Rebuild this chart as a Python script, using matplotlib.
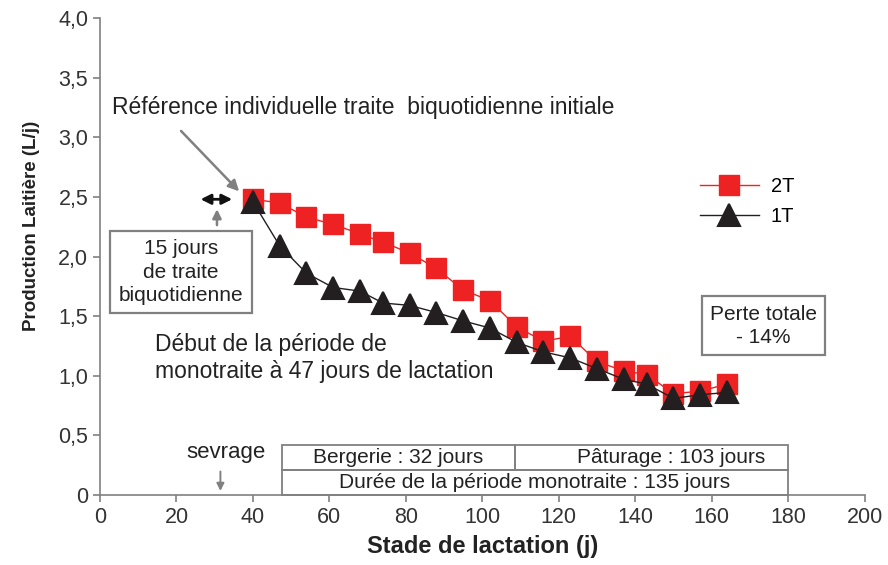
"""Production laitière : traite biquotidienne (2T) vs monotraite (1T)."""

import matplotlib

matplotlib.use("Agg")
import matplotlib.pyplot as plt
from matplotlib.patches import Rectangle

plt.rcParams.update({"font.family": "sans-serif",
                     "font.sans-serif": ["Liberation Sans", "DejaVu Sans"]})

INK = "#231f20"
TXT = "#222222"
RED = "#ee2222"
GRAY = "#808080"

# values
stade = [40, 47, 54, 61, 68, 74, 81, 88, 95, 102, 109, 116, 123, 130, 137, 143, 150, 157, 164]
prod_2t = [2.48, 2.45, 2.33, 2.27, 2.19, 2.12, 2.03, 1.90, 1.72, 1.63, 1.41, 1.29, 1.33,
           1.12, 1.04, 1.01, 0.85, 0.87, 0.93]
prod_1t = [2.46, 2.09, 1.86, 1.74, 1.71, 1.61, 1.59, 1.53, 1.46, 1.40, 1.28, 1.20, 1.15,
           1.06, 0.97, 0.93, 0.81, 0.84, 0.86]

x_ticks = [0, 20, 40, 60, 80, 100, 120, 140, 160, 180, 200]
y_ticks = [0, 0.5, 1.0, 1.5, 2.0, 2.5, 3.0, 3.5, 4.0]
y_tick_labels = ["0", "0,5", "1,0", "1,5", "2,0", "2,5", "3,0", "3,5", "4,0"]

# periods (days): monotraite from 47 to 180 days, bergerie / pâturage split
debut_mono, fin_mono, fin_bergerie = 47.5, 180, 108.5
sevrage = 31.5

fig = plt.figure(figsize=(8.88, 5.65), dpi=100, facecolor="white")
ax = fig.add_axes([0.1126, 0.124, 0.861, 0.844])

ax.plot(stade, prod_2t, color=RED, lw=1.0, marker="s", ms=14, mfc=RED, mec=RED,
        mew=1.0, label="2T", zorder=3)
ax.plot(stade, prod_1t, color=INK, lw=1.0, marker="^", ms=16, mfc=INK, mec=INK,
        mew=1.5, label="1T", zorder=4)

ax.set_xlim(0, 200)
ax.set_ylim(0, 4.0)
ax.set_xticks(x_ticks)
ax.set_yticks(y_ticks, y_tick_labels)
for side in ("top", "right"):
    ax.spines[side].set_visible(False)
for side in ("left", "bottom"):
    ax.spines[side].set_color(GRAY)
    ax.spines[side].set_linewidth(1.2)
ax.tick_params(colors=GRAY, labelcolor="#333333", labelsize=15.5, length=5, width=1.2)
ax.set_xlabel("Stade de lactation (j)", fontsize=17, fontweight="bold", color=TXT,
              labelpad=5)
ax.set_ylabel("Production Laitière (L/j)", fontsize=13.5, fontweight="bold", color=TXT)
ax.yaxis.set_label_coords(-0.078, 0.565)

ax.legend(loc="upper left", bbox_to_anchor=(0.785, 0.667), frameon=False,
          fontsize=14.5, handlelength=2.9, labelspacing=0.55, borderpad=0,
          borderaxespad=0, handletextpad=0.6)

# annotations
ax.text(3.2, 3.25, "Référence individuelle traite  biquotidienne initiale",
        fontsize=16.5, color=TXT, va="center")
ax.annotate("", xy=(36.9, 2.53), xytext=(20.7, 3.07),
            arrowprops=dict(arrowstyle="-|>", color=GRAY, lw=1.8, mutation_scale=16))
ax.annotate("", xy=(35.3, 2.48), xytext=(25.6, 2.48),
            arrowprops=dict(arrowstyle="<|-|>", color="#111111", lw=2.0, mutation_scale=15))
ax.annotate("", xy=(30.6, 2.42), xytext=(30.6, 2.24),
            arrowprops=dict(arrowstyle="-|>", color=GRAY, lw=1.8, mutation_scale=13))
ax.text(21.2, 1.87, "15 jours\nde traite\nbiquotidienne", fontsize=15, color=TXT,
        ha="center", va="center", linespacing=1.3,
        bbox=dict(boxstyle="square,pad=0.4", fc="white", ec=GRAY, lw=1.6))
ax.text(14.3, 1.15, "Début de la période de\nmonotraite à 47 jours de lactation",
        fontsize=16.5, color=TXT, va="center", linespacing=1.25)
ax.text(173.6, 1.42, "Perte totale\n- 14%", fontsize=15, color=TXT,
        ha="center", va="center", linespacing=1.25,
        bbox=dict(boxstyle="square,pad=0.4", fc="white", ec=GRAY, lw=1.6))

ax.text(33, 0.36, "sevrage", fontsize=16, color=TXT, ha="center", va="center")
ax.annotate("", xy=(sevrage, 0.01), xytext=(sevrage, 0.22),
            arrowprops=dict(arrowstyle="-|>", color=GRAY, lw=1.4, mutation_scale=11))

row_h = 0.21
for x0, x1, y0 in ((debut_mono, fin_mono, 0), (debut_mono, fin_bergerie, row_h),
                   (fin_bergerie, fin_mono, row_h)):
    ax.add_patch(Rectangle((x0, y0), x1 - x0, row_h, fill=False, ec=GRAY, lw=1.3,
                           clip_on=False, zorder=2))
ax.text((debut_mono + fin_bergerie) / 2, row_h * 1.5, "Bergerie : 32 jours",
        fontsize=15, color=TXT, ha="center", va="center")
ax.text(149.5, row_h * 1.5, "Pâturage : 103 jours",
        fontsize=15, color=TXT, ha="center", va="center")
ax.text((debut_mono + fin_mono) / 2, row_h * 0.5,
        "Durée de la période monotraite : 135 jours",
        fontsize=15, color=TXT, ha="center", va="center")

fig.savefig("out.png", dpi=100, facecolor="white")
